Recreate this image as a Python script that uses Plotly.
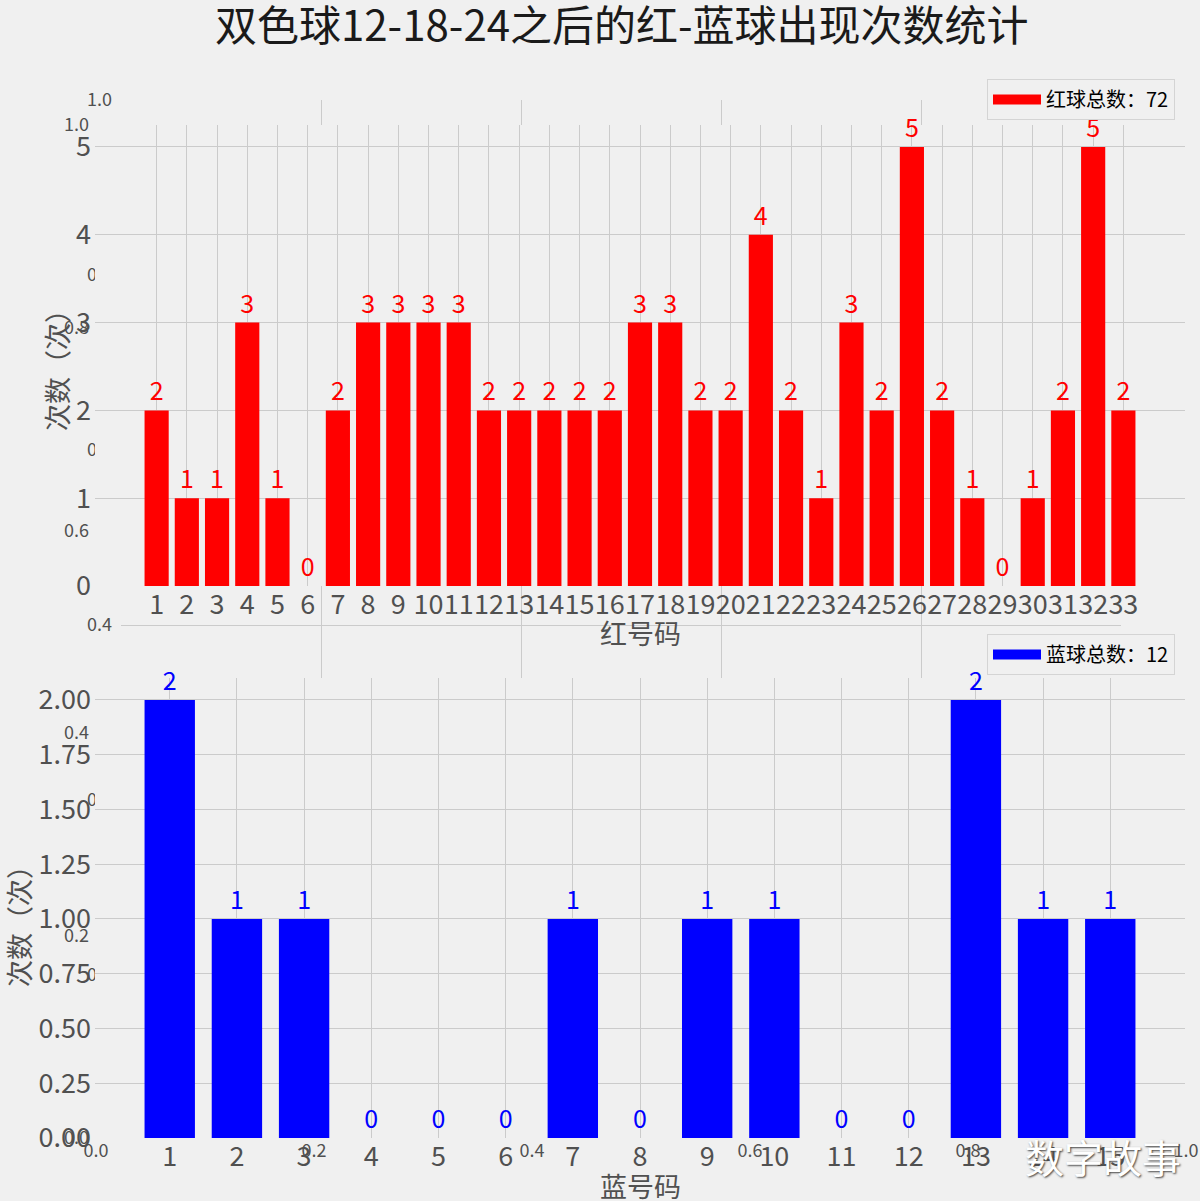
import plotly.graph_objects as go

# ---------------- data ----------------
red_numbers = list(range(1, 34))
red_counts = [2, 1, 1, 3, 1, 0, 2, 3, 3, 3, 3, 2, 2, 2, 2, 2, 3, 3, 2, 2, 4, 2, 1, 3, 2, 5, 2, 1, 0, 1, 2, 5, 2]
blue_numbers = list(range(1, 16))
blue_counts = [2, 1, 1, 0, 0, 0, 1, 0, 1, 1, 0, 0, 2, 1, 1]
red_total = 72
blue_total = 12
red_yticks = [0, 1, 2, 3, 4, 5]
blue_yticks = [0, 0.25, 0.5, 0.75, 1.0, 1.25, 1.5, 1.75, 2.0]
bg_ticks = [0.0, 0.2, 0.4, 0.6, 0.8, 1.0]
bg_labels = ["0.0", "0.2", "0.4", "0.6", "0.8", "1.0"]
bg_inner_ticks = [0.2, 0.4, 0.6, 0.8]

title_text = "双色球12-18-24之后的红-蓝球出现次数统计"
red_legend = f"红球总数：{red_total}"
blue_legend = f"蓝球总数：{blue_total}"
ylabel = "次数（次）"
red_xlabel = "红号码"
blue_xlabel = "蓝号码"
watermark = "数字故事"

# ---------------- style ----------------
W, H = 1200, 1201
FONT = "Noto Sans CJK SC"
BG = "#f0f0f0"
GRID = "#cbcbcb"
TXT = "#505050"


def px(x):
    return x / W


def py(y):
    return 1 - y / H


fig = go.Figure()

# background (artifact) axes
fig.add_trace(go.Scatter(x=[], y=[], xaxis="x", yaxis="y", showlegend=False, hoverinfo="skip"))
fig.add_trace(go.Scatter(x=[], y=[], xaxis="x2", yaxis="y2", showlegend=False, hoverinfo="skip"))
fig.add_trace(go.Scatter(x=[], y=[], xaxis="x2", yaxis="y5", showlegend=False, hoverinfo="skip"))

# red bars
fig.add_trace(go.Bar(
    x=red_numbers, y=red_counts, width=0.8, xaxis="x3", yaxis="y3",
    marker=dict(color="#ff0000", line=dict(width=0)),
    text=[str(v) for v in red_counts], textposition="outside",
    textfont=dict(family=FONT, size=25, color="#ff0000"),
    constraintext="none", cliponaxis=False, showlegend=False,
))
fig.add_trace(go.Scatter(
    x=[None], y=[None], xaxis="x3", yaxis="y3", mode="lines",
    line=dict(color="#ff0000", width=10), name=red_legend, legend="legend",
))

# blue bars
fig.add_trace(go.Bar(
    x=blue_numbers, y=blue_counts, width=0.75, xaxis="x4", yaxis="y4",
    marker=dict(color="#0000ff", line=dict(width=0)),
    text=[str(v) for v in blue_counts], textposition="outside",
    textfont=dict(family=FONT, size=25, color="#0000ff"),
    constraintext="none", cliponaxis=False, showlegend=False,
))
fig.add_trace(go.Scatter(
    x=[None], y=[None], xaxis="x4", yaxis="y4", mode="lines",
    line=dict(color="#0000ff", width=10), name=blue_legend, legend="legend2",
))

small_tick = dict(family=FONT, size=18, color=TXT)
big_tick = dict(family=FONT, size=27, color=TXT)
common = dict(zeroline=False, showline=False, ticks="", fixedrange=True, automargin=False)

legend_style = dict(
    bgcolor=BG, bordercolor="#d4d4d4", borderwidth=1,
    font=dict(family=FONT, size=20, color="#000000"),
    xanchor="right", yanchor="top", itemwidth=48,
)

fig.update_layout(
    width=W, height=H,
    margin=dict(l=0, r=0, t=0, b=0, pad=0, autoexpand=False),
    paper_bgcolor=BG, plot_bgcolor=BG,
    font=dict(family=FONT, color=TXT),
    barmode="overlay",
    # set B (figure-level artifact axes)
    xaxis=dict(domain=[px(96), px(1186)], range=[0, 1], tickvals=bg_ticks, ticktext=bg_labels,
               showgrid=False, tickfont=small_tick, tickangle=0, anchor="y", **common),
    yaxis=dict(domain=[py(1138), py(125)], range=[0, 1], tickvals=bg_ticks, ticktext=bg_labels,
               showgrid=False, tickfont=small_tick, ticklabelstandoff=6, anchor="x", **common),
    # set A (second artifact axes)
    xaxis2=dict(domain=[px(121), px(1121)], range=[0, 1], tickvals=bg_inner_ticks,
                showticklabels=False, showgrid=True, gridcolor=GRID, gridwidth=1, anchor="y2", **common),
    yaxis2=dict(domain=[py(975), py(100)], range=[0, 1], tickvals=bg_ticks, ticktext=bg_labels,
                showgrid=False, tickfont=small_tick, ticklabelstandoff=8, anchor="x2", **common),
    yaxis5=dict(overlaying="y2", range=[0, 1], tickvals=bg_inner_ticks, showticklabels=False,
                showgrid=True, gridcolor=GRID, gridwidth=1, anchor="x2", **common),
    # red chart
    xaxis3=dict(domain=[px(95), px(1185)], range=[-1.04, 35.04], tickvals=red_numbers, tickangle=0,
                showgrid=True, gridcolor=GRID, gridwidth=1, tickfont=big_tick, anchor="y3", **common),
    yaxis3=dict(domain=[py(586), py(125)], range=[0, 5.25], tickvals=red_yticks,
                showgrid=True, gridcolor=GRID, gridwidth=1, tickfont=big_tick, ticklabelstandoff=3,
                anchor="x3", **common),
    # blue chart
    xaxis4=dict(domain=[px(95), px(1185)], range=[-0.1125, 16.1125], tickvals=blue_numbers, tickangle=0,
                showgrid=True, gridcolor=GRID, gridwidth=1, tickfont=big_tick, anchor="y4", **common),
    yaxis4=dict(domain=[py(1138), py(678)], range=[0, 2.1], tickvals=blue_yticks, tickformat=".2f",
                showgrid=True, gridcolor=GRID, gridwidth=1, tickfont=big_tick, ticklabelstandoff=3,
                anchor="x4", **common),
    legend=dict(x=px(1175), y=py(79), **legend_style),
    legend2=dict(x=px(1175), y=py(634), **legend_style),
)

annotations = [
    dict(text=title_text, x=px(622), y=py(23), xref="paper", yref="paper", showarrow=False,
         xanchor="center", yanchor="middle", font=dict(family=FONT, size=42, color="#1a1a1a")),
    dict(text=ylabel, x=px(57), y=py(364), xref="paper", yref="paper", showarrow=False, textangle=-90,
         xanchor="center", yanchor="middle", font=dict(family=FONT, size=27, color=TXT)),
    dict(text=ylabel, x=px(18), y=py(920), xref="paper", yref="paper", showarrow=False, textangle=-90,
         xanchor="center", yanchor="middle", font=dict(family=FONT, size=27, color=TXT)),
    dict(text=red_xlabel, x=px(640), y=py(632), xref="paper", yref="paper", showarrow=False,
         xanchor="center", yanchor="middle", font=dict(family=FONT, size=27, color=TXT)),
    dict(text=blue_xlabel, x=px(640), y=py(1185), xref="paper", yref="paper", showarrow=False,
         xanchor="center", yanchor="middle", font=dict(family=FONT, size=27, color=TXT)),
    dict(text=watermark, x=px(1103), y=py(1156), xref="paper", yref="paper", showarrow=False,
         xanchor="center", yanchor="middle",
         font=dict(family=FONT, size=39, color="#ffffff", shadow="1px 1px 2px #444444")),
]
fig.update_layout(annotations=annotations)

fig.write_html("out.html", config={"displayModeBar": False},
               post_script="document.body.style.margin='0px';")
